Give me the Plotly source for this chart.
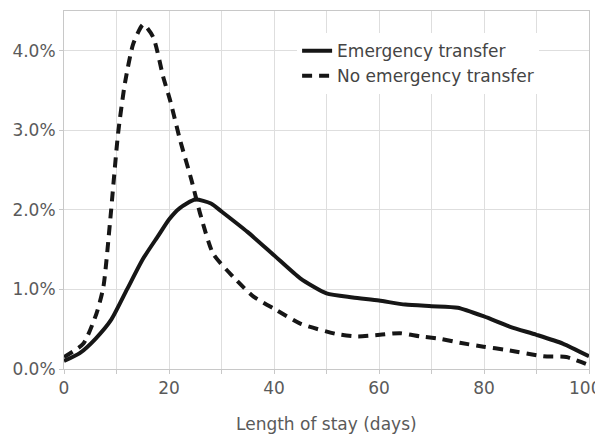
import plotly.graph_objects as go

# Emergency transfer (solid)
em_x = [0, 3, 6, 9, 12, 15, 18, 20, 22, 25, 28, 30, 35, 40, 45, 50, 55, 60, 65, 70, 75, 80, 85, 90, 95, 100]
em_y = [0.10, 0.20, 0.38, 0.62, 1.00, 1.38, 1.68, 1.88, 2.02, 2.13, 2.08, 1.98, 1.72, 1.43, 1.14, 0.95, 0.90, 0.86, 0.81, 0.79, 0.77, 0.66, 0.53, 0.43, 0.32, 0.16]

# No emergency transfer (dashed)
no_x = [0, 3.7, 6.2, 7.5, 8.8, 10.3, 11.6, 13.2, 15.1, 17.0, 18.9, 20.2, 22.1, 24.3, 25.9, 28.4, 32.2, 36.1, 40.5, 45, 51.9, 55.8, 60.2, 64, 67.8, 71.6, 75.4, 79.9, 84.3, 91.3, 95.7, 100]
no_y = [0.15, 0.32, 0.70, 1.03, 1.87, 2.96, 3.59, 4.09, 4.33, 4.17, 3.67, 3.38, 2.88, 2.37, 1.96, 1.45, 1.16, 0.91, 0.74, 0.57, 0.44, 0.41, 0.43, 0.45, 0.41, 0.38, 0.33, 0.28, 0.24, 0.16, 0.15, 0.05]

x_ticks = [0, 20, 40, 60, 80, 100]
x_labels = ["0", "20", "40", "60", "80", "100"]
y_ticks = [0, 1, 2, 3, 4]
y_labels = ["0.0%", "1.0%", "2.0%", "3.0%", "4.0%"]
x_title = "Length of stay (days)"

FONT = "DejaVu Sans, sans-serif"
TXT = "#5a5a5a"
fig = go.Figure()
fig.add_trace(go.Scatter(x=em_x, y=em_y, mode="lines", name="Emergency transfer",
                         line=dict(color="#161616", width=4, shape="spline", smoothing=0.6)))
fig.add_trace(go.Scatter(x=no_x, y=no_y, mode="lines", name="No emergency transfer",
                         line=dict(color="#161616", width=4, shape="spline", smoothing=0.6, dash="10px,7px")))

fig.add_annotation(text=x_title, xref="paper", yref="paper", x=0.5, y=0, yshift=-55,
                   xanchor="center", yanchor="middle", showarrow=False,
                   font=dict(family=FONT, size=17, color=TXT))

# last x tick label is nudged left so it stays inside the page, as in the reference
fig.add_annotation(text=x_labels[-1], xref="x", yref="paper", x=x_ticks[-1], y=0, yshift=-19,
                   xshift=-4, xanchor="center", yanchor="middle", showarrow=False,
                   font=dict(family=FONT, size=17, color=TXT))

fig.update_layout(
    width=595, height=429,
    margin=dict(l=56, r=14, t=3, b=68, autoexpand=False),
    paper_bgcolor="white", plot_bgcolor="white",
    font=dict(family=FONT, size=17, color=TXT),
    showlegend=True,
    legend=dict(x=0.444, y=0.938, xanchor="left", yanchor="top",
                bgcolor="white", borderwidth=0, font=dict(size=17, color="#444444"),
                tracegroupgap=0, itemwidth=30),
    xaxis=dict(range=[0, 100], tickvals=x_ticks, ticktext=x_labels[:-1] + [""],
               showgrid=True, gridcolor="#dedede", gridwidth=1,
               minor=dict(dtick=10, showgrid=True, gridcolor="#dedede", ticks="outside", ticklen=4, tickcolor="#c8c8c8"),
               showline=True, linecolor="#c8c8c8", linewidth=1, mirror=True,
               ticks="outside", ticklen=4, tickcolor="#c8c8c8",
               zeroline=False, automargin=False),
    yaxis=dict(range=[0, 4.5], tickvals=y_ticks, ticktext=y_labels,
               showgrid=True, gridcolor="#dedede", gridwidth=1,
               showline=True, linecolor="#c8c8c8", linewidth=1, mirror=True,
               ticks="outside", ticklen=4, tickcolor="#c8c8c8", zeroline=False, automargin=False),
)

fig.write_html("out.html")
